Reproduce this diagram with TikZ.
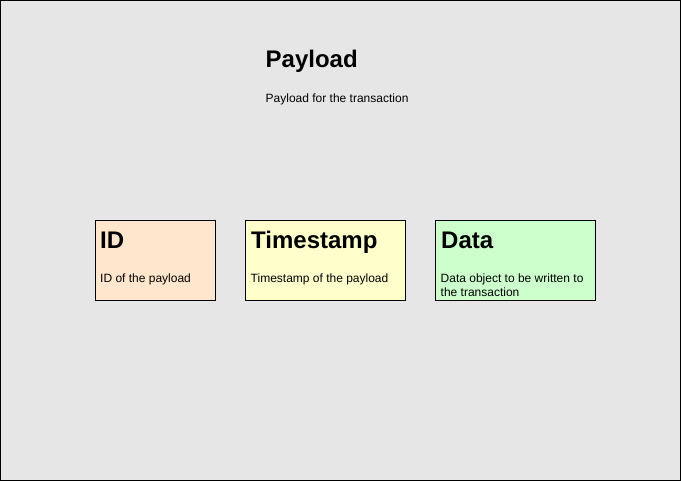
\documentclass[tikz,border=0pt]{standalone}
\usepackage{fontspec}
\setmainfont{Liberation Sans}
\definecolor{bgc}{HTML}{E6E6E6}
\definecolor{idc}{HTML}{FFE6CC}
\definecolor{tsc}{HTML}{FFFFCC}
\definecolor{dac}{HTML}{CCFFCC}
\tikzset{
  card/.style={draw=black, line width=1pt, rectangle, anchor=north west, inner sep=0pt, minimum height=80pt},
  heading/.style={anchor=base west, inner sep=0pt, font=\bfseries\fontsize{24}{28}\selectfont},
  bodytext/.style={anchor=base west, inner sep=0pt, align=left, font=\fontsize{12}{14}\selectfont}
}
\begin{document}
\begin{tikzpicture}[x=1pt, y=-1pt]
  \useasboundingbox (0,0) rectangle (681,481);
  \fill[bgc] (0,0) rectangle (681,481);
  \draw[black, line width=1pt] (0.5,0.5) rectangle (680.5,480.5);

  \node[heading] (ptitle) at (265.5,68) {Payload};
  \node[bodytext] (psub) at (265.5,103) {Payload for the transaction};

  \node[card, fill=idc, minimum width=120pt] (idbox) at (95,220) {};
  \node[heading] (idt) at (100,248.5) {ID};
  \node[bodytext] (idd) at (100,282.5) {ID of the payload};

  \node[card, fill=tsc, minimum width=160pt] (tsbox) at (245,220) {};
  \node[heading] (tst) at (251,248.5) {Timestamp};
  \node[bodytext] (tsd) at (250.5,282.5) {Timestamp of the payload};

  \node[card, fill=dac, minimum width=160pt] (dabox) at (435,220) {};
  \node[heading] (dat) at (441,248.5) {Data};
  \node[bodytext] (dad) at (440.5,296.5) {Data object to be written to\\the transaction};
\end{tikzpicture}
\end{document}
